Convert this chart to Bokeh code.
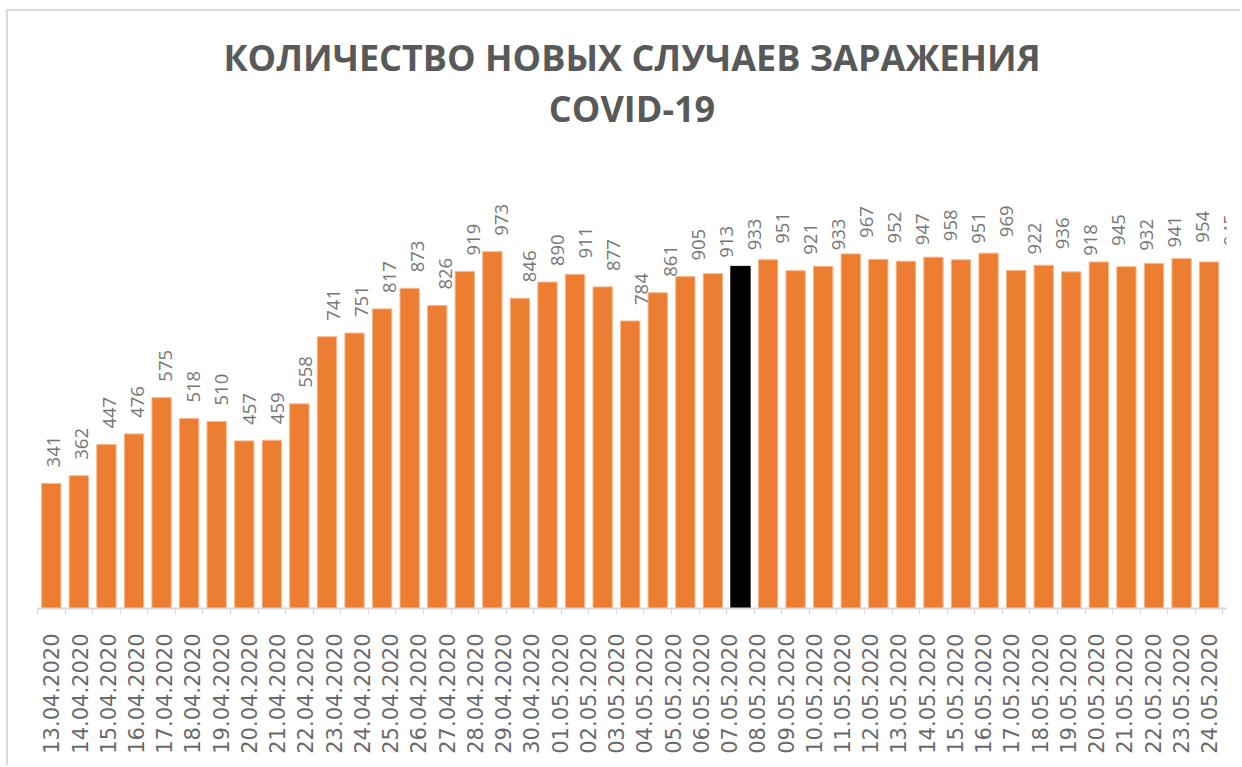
import math
from bokeh.plotting import figure
from bokeh.models import (Range1d, LinearAxis, FixedTicker, CustomJSTickFormatter,
                          ColumnDataSource, Title)
from bokeh.core.properties import value
from bokeh.embed import file_html
from bokeh.resources import INLINE

# ---- data ----
dates = ["13.04.2020", "14.04.2020", "15.04.2020", "16.04.2020", "17.04.2020",
         "18.04.2020", "19.04.2020", "20.04.2020", "21.04.2020", "22.04.2020",
         "23.04.2020", "24.04.2020", "25.04.2020", "26.04.2020", "27.04.2020",
         "28.04.2020", "29.04.2020", "30.04.2020", "01.05.2020", "02.05.2020",
         "03.05.2020", "04.05.2020", "05.05.2020", "06.05.2020", "07.05.2020",
         "08.05.2020", "09.05.2020", "10.05.2020", "11.05.2020", "12.05.2020",
         "13.05.2020", "14.05.2020", "15.05.2020", "16.05.2020", "17.05.2020",
         "18.05.2020", "19.05.2020", "20.05.2020", "21.05.2020", "22.05.2020",
         "23.05.2020", "24.05.2020"]

new_cases = [341, 362, 447, 476, 575, 518, 510, 457, 459, 558,
             741, 751, 817, 873, 826, 919, 973, 846, 890, 911,
             877, 784, 861, 905, 913, 933, 951, 921, 933, 967,
             952, 947, 958, 951, 969, 922, 936, 918, 945, 932,
             941, 954, 945]

highlight_bar = 25  # the black bar

title_line1 = "КОЛИЧЕСТВО НОВЫХ СЛУЧАЕВ ЗАРАЖЕНИЯ"
title_line2 = "COVID-19"

# ---- styling ----
BAR_COLOR = "#ED7D31"
BAR_EDGE = "#F6B68A"
HIGHLIGHT_COLOR = "#000000"
TITLE_COLOR = "#595959"

n = len(new_cases)
idx = list(range(n))
fill = [HIGHLIGHT_COLOR if i == highlight_bar else BAR_COLOR for i in idx]
edge = [HIGHLIGHT_COLOR if i == highlight_bar else BAR_EDGE for i in idx]
label_x = [i * 1.017 + 0.07 for i in idx]

src = ColumnDataSource(dict(x=idx, top=new_cases, fill=fill, edge=edge,
                            lx=label_x, txt=[str(v) for v in new_cases]))

p = figure(width=1234, height=756,
           x_range=Range1d(-0.5, 42.63), y_range=Range1d(0, 1298),
           x_axis_type=None, y_axis_type=None,
           output_backend="svg", toolbar_location=None,
           min_border_left=29, min_border_right=16,
           min_border_top=121, min_border_bottom=159)
p.outline_line_color = None
p.background_fill_color = "white"
p.border_fill_color = "white"
p.styles = {"margin-left": "6px", "margin-top": "9px",
            "border-left": "2px solid #d9d9d9", "border-top": "2px solid #d9d9d9"}

p.vbar(x="x", top="top", bottom=0, width=0.7, fill_color="fill",
       line_color="edge", line_width=1, source=src)

p.text(x="lx", y="top", text="txt", angle=math.pi / 2,
       text_align="left", text_baseline="middle", y_offset=-16,
       text_font=value("Open Sans"), text_font_size=value("18.5px"),
       text_color="#767676", source=src)

# date axis: labels spread evenly across the bar span
spread = (n - 1) / (len(dates) - 1)
tick_pos = [i * spread for i in range(len(dates))]
bounds = [i - 0.5 for i in range(n + 1)]
xaxis = LinearAxis(
    ticker=FixedTicker(ticks=tick_pos, minor_ticks=bounds),
    formatter=CustomJSTickFormatter(args=dict(labels=dates), code="return labels[index];"),
    major_label_orientation=math.pi / 2,
    major_label_standoff=19,
    major_label_text_font="DejaVu Sans",
    major_label_text_font_size="21px",
    major_label_text_color="#6a6a6a",
    axis_line_color="#d9d9d9", axis_line_width=2,
    major_tick_line_color=None, major_tick_in=0, major_tick_out=0,
    minor_tick_line_color="#d9d9d9", minor_tick_line_width=1,
    minor_tick_in=0, minor_tick_out=6,
)
p.add_layout(xaxis, "below")

t2 = Title(text=title_line2, align="center", text_font="Open Sans",
           text_font_size="36px", text_font_style="bold",
           text_color=TITLE_COLOR, standoff=0, offset=-7)
t1 = Title(text=title_line1, align="center", text_font="Open Sans",
           text_font_size="36px", text_font_style="bold",
           text_color=TITLE_COLOR, standoff=0, offset=-7)
p.add_layout(t2, "above")
p.add_layout(t1, "above")

open("out.html", "w").write(file_html(p, INLINE))
